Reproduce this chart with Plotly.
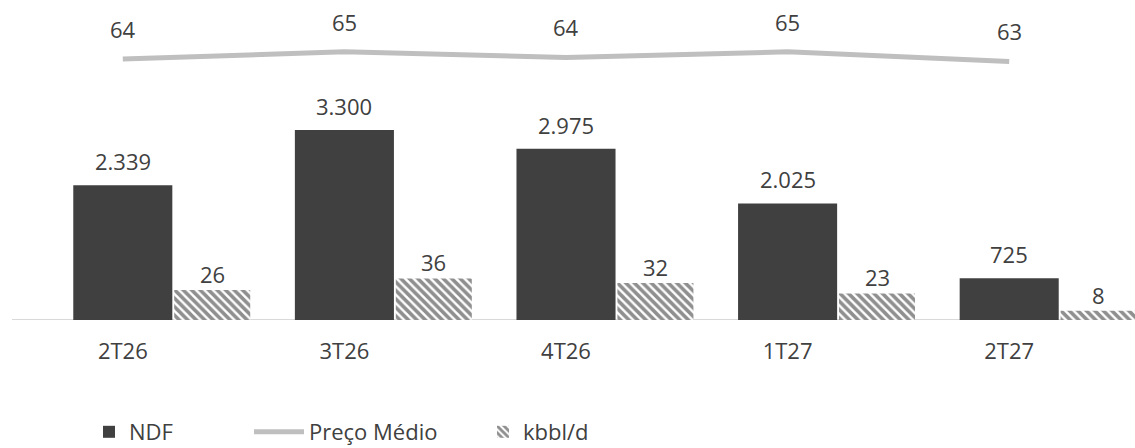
import plotly.graph_objects as go

categories = ["2T26", "3T26", "4T26", "1T27", "2T27"]
ndf = [2339, 3300, 2975, 2025, 725]
kbbl = [26, 36, 32, 23, 8]
preco = [63.7, 64.6, 63.9, 64.6, 63.4]

W, H = 1135, 448
FONT = "Open Sans"
TXT = "#404040"
DARK = "#404040"
LIGHT = "#bfbfbf"

idx = list(range(len(categories)))

# bar geometry (in category units)
NDF_W, NDF_OFF = 0.447, -0.2235
KB_W, KB_OFF = 0.343, 0.232

fig = go.Figure()
fig.add_trace(go.Bar(
    x=idx, y=ndf, name="NDF", width=NDF_W, offset=NDF_OFF, showlegend=True,
    marker=dict(color=DARK, line=dict(width=0)), yaxis="y", legend="legend",
))
fig.add_trace(go.Scatter(
    x=idx, y=preco, name="Preço Médio", mode="lines", showlegend=True,
    line=dict(color=LIGHT, width=5), yaxis="y3", legend="legend2",
))
fig.add_trace(go.Bar(
    x=idx, y=kbbl, name="kbbl/d", width=KB_W, offset=KB_OFF, showlegend=True,
    marker=dict(color="white", line=dict(width=0),
                pattern=dict(shape="\\", fgcolor="#1f1f1f", bgcolor="white", size=6, solidity=0.6)),
    yaxis="y2", legend="legend3",
))

ann = []
for i, v in zip(idx, ndf):
    ann.append(dict(x=i, y=v, xref="x", yref="y", text=f"{v:,}".replace(",", "."),
                    showarrow=False, yanchor="middle", yshift=24,
                    font=dict(family=FONT, size=22, color=TXT)))
for i, v in zip(idx, kbbl):
    ann.append(dict(x=i + KB_OFF + KB_W / 2, y=v, xref="x", yref="y2", text=str(v),
                    showarrow=False, yanchor="middle", yshift=16,
                    font=dict(family=FONT, size=22, color=TXT)))
for i, v in zip(idx, preco):
    ann.append(dict(x=i, y=v, xref="x", yref="y3", text=f"{v:.0f}",
                    showarrow=False, yanchor="middle", yshift=30,
                    font=dict(family=FONT, size=22, color=TXT)))

legend_common = dict(orientation="h", yanchor="middle", y=16 / H, xanchor="left",
                     xref="container", yref="container",
                     bgcolor="rgba(0,0,0,0)", borderwidth=0,
                     font=dict(family=FONT, size=22, color=TXT))

fig.update_layout(
    width=W, height=H,
    margin=dict(l=0, r=0, t=0, b=0, autoexpand=False),
    paper_bgcolor="white", plot_bgcolor="white",
    barmode="overlay",
    showlegend=True,
    font=dict(family=FONT, size=22, color=TXT),
    xaxis=dict(domain=[12 / W, 1], range=[-0.5, (W - 12) / 221.6 - 0.5],
               tickvals=idx, ticktext=categories, showgrid=False, zeroline=False,
               showline=False, ticks="", ticklabelstandoff=16, automargin=False,
               tickfont=dict(family=FONT, size=22, color=TXT)),
    yaxis=dict(domain=[128 / H, 1], range=[0, 320 / 0.05758], visible=False),
    yaxis2=dict(overlaying="y", range=[0, 320 / 1.155], visible=False),
    yaxis3=dict(overlaying="y", range=[63.7 - 261 / 8, 63.7 + 59 / 8], visible=False),
    shapes=[dict(type="line", xref="x", yref="y", x0=-0.5, x1=4.5, y0=0, y1=0,
                 line=dict(color="#d9d9d9", width=2), layer="below")],
    annotations=ann,
    legend=dict(x=(129 - 40) / W, **legend_common),
    legend2=dict(x=(309 - 60) / W, itemwidth=50, **legend_common),
    legend3=dict(x=(523 - 40) / W, **legend_common),
)

fig.write_html("out.html")
